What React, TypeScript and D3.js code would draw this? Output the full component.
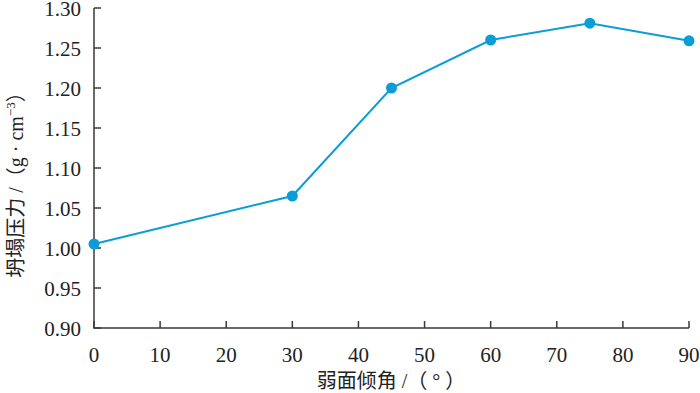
import * as d3 from 'd3';
import { useEffect, useRef } from 'react';

const angles = [0, 30, 45, 60, 75, 90];
const pressures = [1.005, 1.065, 1.2, 1.26, 1.281, 1.259];
const xTicks = [0, 10, 20, 30, 40, 50, 60, 70, 80, 90];
const yTicks = [0.9, 0.95, 1.0, 1.05, 1.1, 1.15, 1.2, 1.25, 1.3];

const App = () => {
  const svgRef = useRef<SVGSVGElement>(null);

  useEffect(() => {
    if (!svgRef.current) return;
    const width = 700;
    const height = 393;
    const left = 94;
    const right = 689;
    const top = 8;
    const bottom = 328;
    const axisColor = '#3a3a3a';
    const lineColor = '#0a9dd8';
    const latin = 'Times New Roman, Liberation Serif, DejaVu Serif, serif';
    const cjk = 'Times New Roman, Liberation Serif, Noto Sans CJK SC, serif';

    const svg = d3.select(svgRef.current)
      .attr('width', width)
      .attr('height', height);
    svg.selectAll('*').remove();

    const x = d3.scaleLinear().domain([0, 90]).range([left, right]);
    const y = d3.scaleLinear().domain([0.9, 1.3]).range([bottom, top]);

    // axes
    svg.append('path')
      .attr('d', `M${left},${top}V${bottom}H${right}`)
      .attr('fill', 'none')
      .attr('stroke', axisColor)
      .attr('stroke-width', 1.5);

    svg.selectAll('.ytick')
      .data(yTicks)
      .enter()
      .append('line')
      .attr('x1', left)
      .attr('x2', left + 7)
      .attr('y1', (d) => y(d))
      .attr('y2', (d) => y(d))
      .attr('stroke', axisColor)
      .attr('stroke-width', 1.5);

    svg.selectAll('.xtick')
      .data(xTicks)
      .enter()
      .append('line')
      .attr('x1', (d) => x(d))
      .attr('x2', (d) => x(d))
      .attr('y1', bottom)
      .attr('y2', bottom - 7)
      .attr('stroke', axisColor)
      .attr('stroke-width', 1.5);

    svg.selectAll('.ylab')
      .data(yTicks)
      .enter()
      .append('text')
      .attr('x', left - 13)
      .attr('y', (d) => y(d) + 8)
      .attr('text-anchor', 'end')
      .attr('font-family', latin)
      .attr('font-size', 21)
      .attr('fill', '#222')
      .text((d) => d3.format('.2f')(d));

    svg.selectAll('.xlab')
      .data(xTicks)
      .enter()
      .append('text')
      .attr('x', (d) => x(d))
      .attr('y', 362)
      .attr('text-anchor', 'middle')
      .attr('font-family', latin)
      .attr('font-size', 21)
      .attr('fill', '#222')
      .text((d) => String(d));

    // line + markers
    const line = d3.line<number>()
      .x((_, i) => x(angles[i]))
      .y((d) => y(d));

    svg.append('path')
      .datum(pressures)
      .attr('d', line)
      .attr('fill', 'none')
      .attr('stroke', lineColor)
      .attr('stroke-width', 2);

    svg.selectAll('.pt')
      .data(pressures)
      .enter()
      .append('circle')
      .attr('cx', (_, i) => x(angles[i]))
      .attr('cy', (d) => y(d))
      .attr('r', 5.5)
      .attr('fill', lineColor);

    // axis titles
    svg.append('text')
      .attr('x', 391)
      .attr('y', 388)
      .attr('text-anchor', 'middle')
      .attr('font-family', cjk)
      .attr('font-size', 20)
      .attr('fill', '#222')
      .text('弱面倾角 /（ ° ）');

    const yt = svg.append('text')
      .attr('transform', 'translate(23,180) rotate(-90)')
      .attr('text-anchor', 'middle')
      .attr('font-family', cjk)
      .attr('font-size', 20)
      .attr('fill', '#222');
    yt.append('tspan').text('坍塌压力 /（g · cm');
    yt.append('tspan').attr('dy', -8).attr('font-size', 13).text('−3');
    yt.append('tspan').attr('dy', 8).text('）');
  }, []);

  return <svg ref={svgRef} style={{ position: 'absolute', left: 0, top: 0 }} />;
};

export default App;
